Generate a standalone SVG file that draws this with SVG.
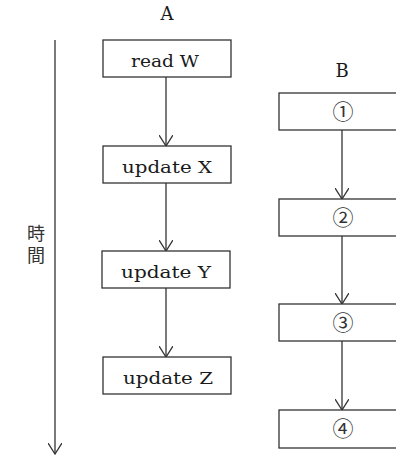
<svg xmlns="http://www.w3.org/2000/svg" width="396" height="456" viewBox="0 0 396 456">
<style>
.box{fill:#fff;stroke:#333;stroke-width:1.3}
.ln{fill:none;stroke:#333;stroke-width:1.3}
.t{font-family:"DejaVu Serif","Noto Sans CJK JP",serif;font-size:17px;fill:#1a1a1a;text-anchor:middle}
.h{font-family:"DejaVu Serif",serif;font-size:18px;fill:#1a1a1a;text-anchor:middle}
.c{font-family:"Noto Sans CJK JP",sans-serif;font-size:21px;fill:#333;text-anchor:middle}
.j{font-family:"Noto Sans CJK JP",sans-serif;font-size:18px;fill:#333}
</style>
<defs>
<marker id="ah" viewBox="0 0 12 14" refX="11.5" refY="7" markerWidth="12" markerHeight="14" markerUnits="userSpaceOnUse" orient="auto">
<path d="M0.5,0 L11.5,7 L0.5,14" fill="none" stroke="#333" stroke-width="1.3"/>
</marker>
</defs>
<rect width="396" height="456" fill="#fff"/>
<text class="h" x="167" y="20">A</text>
<text class="h" x="342" y="77">B</text>
<g id="time">
<line class="ln" x1="55" y1="40" x2="55" y2="454" marker-end="url(#ah)"/>
<text class="j" x="36" y="224" writing-mode="vertical-rl" letter-spacing="4">時間</text>
</g>
<g id="connectors">
<line class="ln" x1="166" y1="77" x2="166" y2="146" marker-end="url(#ah)"/>
<line class="ln" x1="166" y1="183" x2="166" y2="251" marker-end="url(#ah)"/>
<line class="ln" x1="166" y1="288" x2="166" y2="357" marker-end="url(#ah)"/>
<line class="ln" x1="342" y1="130" x2="342" y2="199" marker-end="url(#ah)"/>
<line class="ln" x1="342" y1="236" x2="342" y2="304" marker-end="url(#ah)"/>
<line class="ln" x1="342" y1="341" x2="342" y2="410" marker-end="url(#ah)"/>
</g>
<g id="readW"><rect class="box" x="103" y="40" width="128" height="37"/><text class="t" x="165" y="67" textLength="68" lengthAdjust="spacingAndGlyphs">read W</text></g>
<g id="updateX"><rect class="box" x="103" y="146" width="128" height="37"/><text class="t" x="167" y="173" textLength="90" lengthAdjust="spacingAndGlyphs">update X</text></g>
<g id="updateY"><rect class="box" x="102" y="251" width="128" height="37"/><text class="t" x="166" y="278" textLength="90" lengthAdjust="spacingAndGlyphs">update Y</text></g>
<g id="updateZ"><rect class="box" x="103" y="357" width="128" height="37"/><text class="t" x="168" y="384" textLength="90" lengthAdjust="spacingAndGlyphs">update Z</text></g>
<g id="b1"><rect class="box" x="279" y="93" width="126" height="37"/><text class="c" x="343" y="119">①</text></g>
<g id="b2"><rect class="box" x="279" y="199" width="126" height="37"/><text class="c" x="343" y="225">②</text></g>
<g id="b3"><rect class="box" x="279" y="304" width="126" height="37"/><text class="c" x="343" y="330">③</text></g>
<g id="b4"><rect class="box" x="279" y="410" width="126" height="38"/><text class="c" x="343" y="436">④</text></g>
</svg>
